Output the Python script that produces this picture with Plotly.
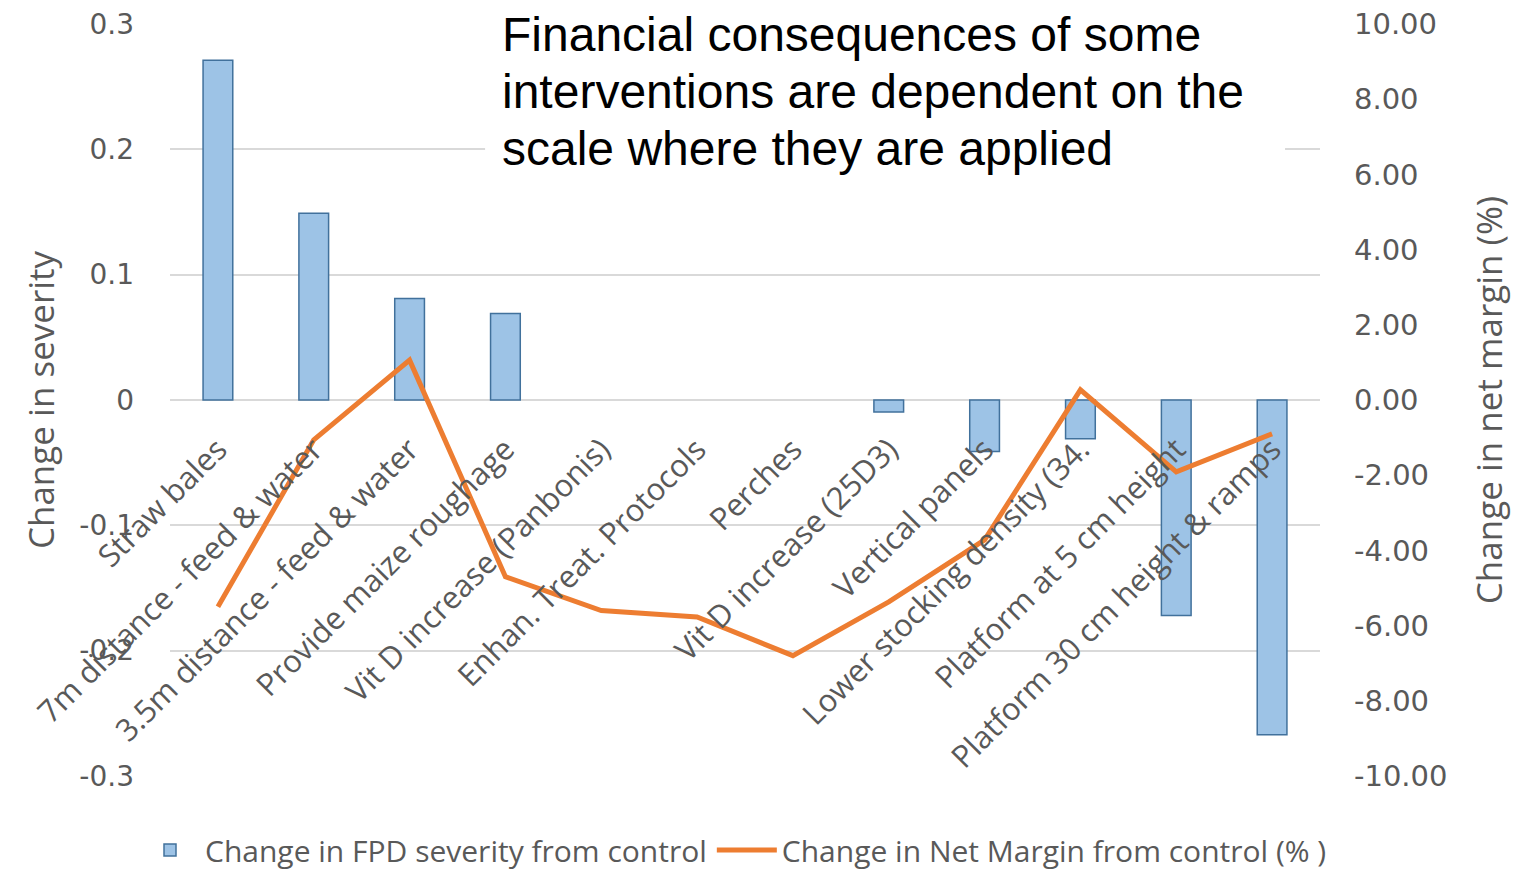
import plotly.graph_objects as go

categories = [
    "Straw bales",
    "7m distance - feed & water",
    "3.5m distance - feed & water",
    "Provide maize roughage",
    "Vit D increase (Panbonis)",
    "Enhan. Treat. Protocols",
    "Perches",
    "Vit D increase (25D3)",
    "Vertical panels",
    "Lower stocking density (34.",
    "Platform at 5 cm height",
    "Platform 30 cm height & ramps",
]
# None = no visible bar in the reference
fpd_severity = [0.271, 0.149, 0.081, 0.069, None, None, None, -0.0096, -0.041, -0.031, -0.172, -0.267]
net_margin = [-5.5, -1.06, 1.06, -4.7, -5.6, -5.77, -6.8, -5.37, -3.72, 0.27, -1.91, -0.9]

left_tickvals = [0.3, 0.2, 0.1, 0, -0.1, -0.2, -0.3]
left_ticktext = ["0.3", "0.2", "0.1", "0", "-0.1", "-0.2", "-0.3"]
right_tickvals = [10, 8, 6, 4, 2, 0, -2, -4, -6, -8, -10]
right_ticktext = ["10.00", "8.00", "6.00", "4.00", "2.00", "0.00", "-2.00", "-4.00", "-6.00", "-8.00", "-10.00"]

title_lines = [
    "Financial consequences of some",
    "interventions are dependent on the",
    "scale where they are applied",
]

GREY = "#595959"
GRID = "#D9D9D9"

fig = go.Figure()
fig.add_trace(go.Bar(
    x=categories, y=fpd_severity, name="Change in FPD severity from control",
    marker=dict(color="#9DC3E6", line=dict(color="#41719C", width=1.5)),
    yaxis="y",
))
fig.add_trace(go.Scatter(
    x=categories, y=net_margin, name="Change in Net Margin from control (% )",
    mode="lines", line=dict(color="#ED7D31", width=5),
    yaxis="y2",
))

# plot area: x 170..1320 px, y 24..776 px
annotations = []
for i, line in enumerate(title_lines):
    top_px = 6 + 57 * i
    annotations.append(dict(
        text=line, xref="paper", yref="paper", x=(500 - 170) / 1150, y=(776 - top_px) / 752,
        xanchor="left", yanchor="top", align="left", showarrow=False,
        font=dict(family="Liberation Sans", size=48, color="black")))

fig.update_layout(
    width=1515, height=875,
    margin=dict(l=170, r=195, t=24, b=99, autoexpand=False),
    paper_bgcolor="white", plot_bgcolor="white",
    bargap=0.69,
    showlegend=True,
    legend=dict(orientation="h", x=(135 - 170) / 1150, y=(776 - 850) / 752,
                xanchor="left", yanchor="middle",
                font=dict(family="Open Sans", size=30, color=GREY),
                itemwidth=60, tracegroupgap=0),
    xaxis=dict(
        type="category", range=[-0.5, 11.5], automargin=False,
        anchor="free", position=0.5,
        showline=False, ticks="", showgrid=False, zeroline=False,
        tickangle=-45, tickfont=dict(family="Open Sans", size=31, color=GREY),
        ticklabelstandoff=24,
    ),
    yaxis=dict(
        range=[-0.3, 0.3], tickvals=left_tickvals, ticktext=left_ticktext, automargin=False,
        showgrid=True, gridcolor=GRID, gridwidth=2,
        zeroline=True, zerolinecolor=GRID, zerolinewidth=2,
        showline=False, ticks="",
        tickfont=dict(family="DejaVu Sans", size=28, color=GREY),
        ticklabelstandoff=35,
        title=dict(text="Change in severity", font=dict(family="Open Sans", size=35, color=GREY), standoff=14),
    ),
    yaxis2=dict(
        range=[-10, 10], tickvals=right_tickvals, ticktext=right_ticktext, automargin=False,
        overlaying="y", side="right", anchor="x",
        showgrid=False, zeroline=False, showline=False, ticks="",
        tickfont=dict(family="DejaVu Sans", size=29, color=GREY),
        ticklabelstandoff=33,
        title=dict(text="Change in net margin (%)", font=dict(family="Open Sans", size=35, color=GREY), standoff=30),
    ),
    shapes=[dict(type="rect", xref="paper", yref="paper", x0=0.274, x1=0.9696, y0=0.766, y1=1.04,
                 fillcolor="white", line=dict(width=0), layer="above")],
    annotations=annotations,
)

fig.write_html("out.html")
